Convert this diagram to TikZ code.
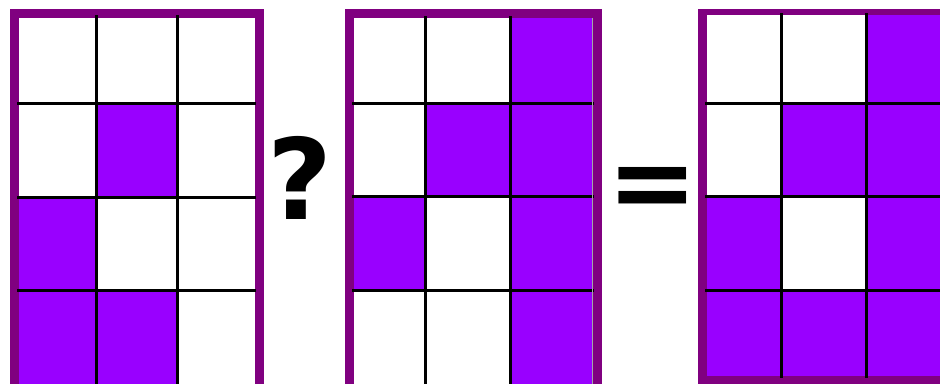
\documentclass[tikz,border=0pt]{standalone}
\usepackage{fontspec}
\newfontfamily\symfont{DejaVu Sans}
\definecolor{framecol}{HTML}{800080}
\definecolor{cellcol}{HTML}{9900FF}
\begin{document}
\begin{tikzpicture}[x=1pt,y=-1pt,
  framefill/.style={fill=framecol},
  innerfill/.style={fill=white},
  cellfill/.style={fill=cellcol},
  gridline/.style={draw=black, line width=3pt},
  bigsym/.style={font=\symfont\bfseries, inner sep=0pt, text=black}]
\useasboundingbox (0,0) rectangle (940,383);
\clip (0,0) rectangle (940,383);
\fill[white] (0,0) rectangle (940,383);
% ---------- grid 1 ----------
\fill[framefill] (10,9) rectangle (264,400);
\fill[innerfill] (19,18) rectangle (255,400);
\fill[cellfill] (96,103) rectangle (177,197);
\fill[cellfill] (19,197) rectangle (96,290);
\fill[cellfill] (19,290) rectangle (177,400);
\draw[gridline] (96,15) -- (96,400);
\draw[gridline] (177,15) -- (177,400);
\draw[gridline] (17,103) -- (256,103);
\draw[gridline] (17,197) -- (256,197);
\draw[gridline] (17,290) -- (256,290);
% ---------- grid 2 ----------
\fill[framefill] (345,9) rectangle (602,400);
\fill[innerfill] (354,18) rectangle (592,400);
\fill[cellfill] (510,18) rectangle (592,103);
\fill[cellfill] (425,103) rectangle (592,196);
\fill[cellfill] (354,196) rectangle (425,290);
\fill[cellfill] (510,196) rectangle (592,290);
\fill[cellfill] (510,290) rectangle (592,400);
\draw[gridline] (425,16) -- (425,400);
\draw[gridline] (510,16) -- (510,400);
\draw[gridline] (352,103) -- (594,103);
\draw[gridline] (352,196) -- (594,196);
\draw[gridline] (352,290) -- (594,290);
\draw[draw=black!35, line width=1pt] (592.5,18) -- (592.5,400);
% ---------- grid 3 ----------
\fill[framefill] (698,9) rectangle (950,400);
\fill[innerfill] (707,15) rectangle (950,376);
\fill[cellfill] (866,15) rectangle (950,103);
\fill[cellfill] (781,103) rectangle (950,196);
\fill[cellfill] (707,196) rectangle (781,290);
\fill[cellfill] (866,196) rectangle (950,290);
\fill[cellfill] (707,290) rectangle (950,376);
\draw[gridline] (781,13) -- (781,378);
\draw[gridline] (866,13) -- (866,378);
\draw[gridline] (705,103) -- (950,103);
\draw[gridline] (705,196) -- (950,196);
\draw[gridline] (705,290) -- (950,290);
% ---------- symbols ----------
\node[bigsym, font=\symfont\bfseries\fontsize{112}{112}\selectfont] (qmark) at (300,178) {?};
\node[bigsym, font=\symfont\bfseries\fontsize{108}{108}\selectfont, yscale=1.0] (eqsign) at (653,193) {=};
\end{tikzpicture}
\end{document}
